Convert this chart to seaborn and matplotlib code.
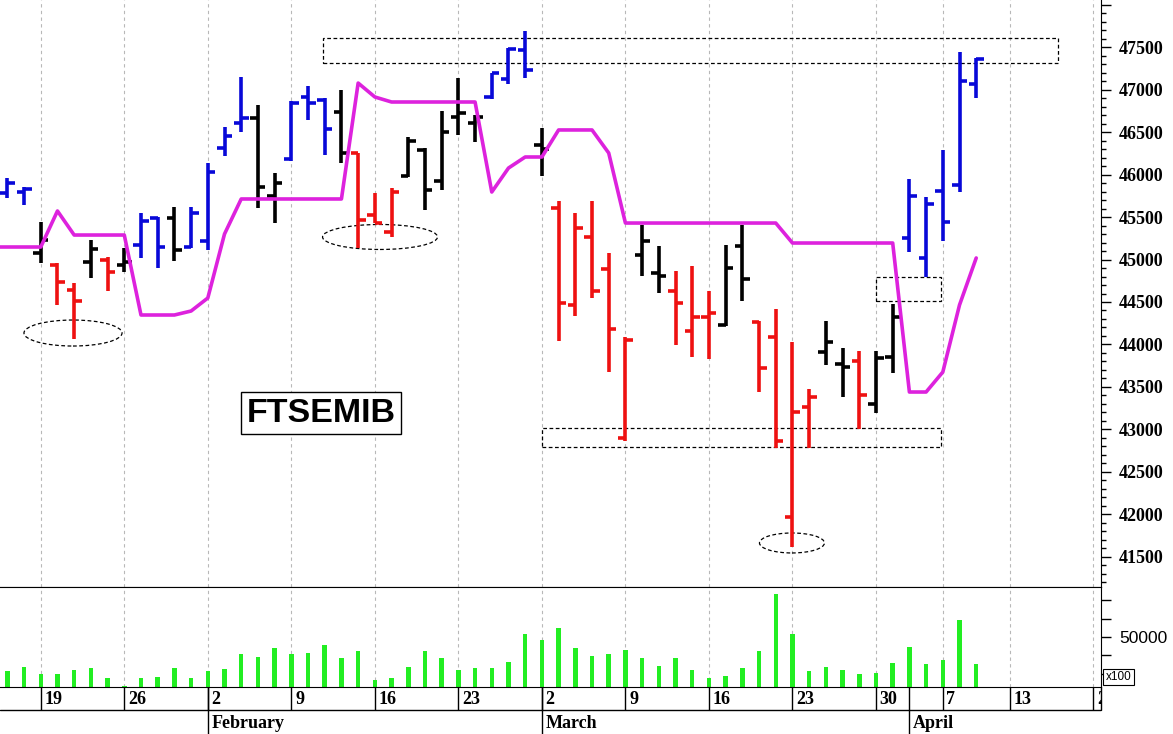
import matplotlib
matplotlib.use("Agg")
import matplotlib.pyplot as plt
from matplotlib.patches import Ellipse, Rectangle
from matplotlib.ticker import MultipleLocator
import seaborn as sns
import numpy as np
import pandas as pd

# trading days (3 and 6 April 2015 are Easter holidays)
dates = pd.bdate_range("2015-01-15", "2015-04-09").drop(pd.to_datetime(["2015-04-03", "2015-04-06"]))
future = pd.bdate_range("2015-04-10", "2015-04-20")

opens = [45780, 45790, 45076, 44935, 44641, 44970, 44994, 44935, 45171, 45488,
         45488, 45147, 45218, 46312, 46606, 46665, 45747, 46182, 46912, 46876,
         46735, 46253, 45524, 45324, 45982, 46288, 45924, 46676, 46606, 46912,
         47124, 47465, 46347, 45606, 44465, 45265, 44888, 42900, 45053, 44841,
         44629, 44159, 44323, 44229, 45159, 44265, 44088, 41971, 43265, 43912,
         43771, 43806, 43300, 43853, 45253, 45018, 45806, 45876, 47065]
highs = [45960, 45850, 45441, 44959, 44723, 45229, 45030, 45135, 45547, 45500,
         45618, 45618, 46135, 46559, 47147, 46818, 46018, 46865, 47041, 46900,
         46994, 46253, 45782, 45841, 46441, 46312, 46747, 47135, 46700, 47194,
         47488, 47688, 46547, 45688, 45547, 45688, 45076, 44088, 45406, 45159,
         44865, 44923, 44629, 45171, 45406, 44276, 44418, 44029, 43476, 44276,
         43959, 43924, 43924, 44476, 45947, 45735, 46288, 47441, 47371]
lows = [45720, 45640, 44959, 44465, 44065, 44782, 44630, 44853, 45018, 44900,
        44982, 45135, 45112, 46218, 46500, 45606, 45429, 46159, 46641, 46229,
        46135, 45135, 45429, 45265, 45971, 45582, 45818, 46465, 46382, 46888,
        47065, 47135, 45982, 44041, 44335, 44547, 43676, 42865, 44806, 44606,
        43994, 43853, 43829, 44218, 44512, 43441, 42782, 41618, 42782, 43759,
        43382, 43006, 43194, 43665, 45088, 44794, 45218, 45794, 46900]
closes = [45900, 45830, 45229, 44735, 44512, 45124, 44853, 44970, 45453, 45147,
          45112, 45547, 46029, 46453, 46665, 45853, 45900, 46841, 46841, 46535,
          46253, 45465, 45429, 45794, 46394, 45818, 46500, 46724, 46676, 47194,
          47476, 47229, 46300, 44488, 45371, 44629, 44182, 44053, 45218, 44806,
          44488, 44323, 44371, 44900, 44771, 43723, 42865, 43206, 43382, 44029,
          43735, 43406, 43841, 44323, 45747, 45653, 45441, 47100, 47359]
# b = blue, r = red, k = black
bar_colors = ["bbkrr", "krkbb", "kbbbb", "kkbbb", "krrrk", "kkkkb",
              "bbkrr", "rrrkk", "rrrkk", "rrrrk", "krkkb", "bbbb"]
# stop line starts one session earlier (14 Jan, off the left edge)
stop_line = [45147,
             45147, 45147, 45147, 45571, 45288, 45288, 45288, 45288, 44347, 44347,
             44347, 44394, 44547, 45300, 45712, 45712, 45712, 45712, 45712, 45712,
             45712, 47076, 46912, 46853, 46853, 46853, 46853, 46853, 46853, 45794,
             46076, 46206, 46206, 46524, 46524, 46524, 46253, 45429, 45429, 45429,
             45429, 45429, 45429, 45429, 45429, 45429, 45429, 45194, 45194, 45194,
             45194, 45194, 45194, 45194, 43441, 43441, 43676, 44465, 45018]
volume = [31600, 33600, 29800, 29800, 32000, 33100, 27600, 23200, 27600, 28100,
          33100, 27600, 31400, 32500, 40700, 39100, 44000, 40700, 41300, 45600,
          38500, 42300, 26500, 27600, 33600, 42300, 38500, 32000, 33100, 33100,
          36300, 51600, 48400, 54900, 44000, 39600, 40700, 42900, 38500, 34200,
          38500, 32000, 27600, 28700, 33100, 42300, 73500, 51600, 31400, 33600,
          32000, 29800, 30300, 35800, 44500, 35200, 37400, 59300, 35200]
price_ticks = [41500, 42000, 42500, 43000, 43500, 44000, 44500, 45000,
               45500, 46000, 46500, 47000, 47500, 48000]

sns.set_style("white")
plt.rcParams["font.family"] = ["Liberation Serif", "DejaVu Serif"]
for k in ("axes.edgecolor", "text.color", "xtick.color", "ytick.color", "axes.labelcolor"):
    plt.rcParams[k] = "black"

W, H = 1173, 734
fig = plt.figure(figsize=(W / 100, H / 100), dpi=100)
right = 1101 / W
ax_p = fig.add_axes([0, (H - 587) / H, right, 587 / H])
ax_v = fig.add_axes([0, (H - 687) / H, right, 100 / H])
ax_d = fig.add_axes([0, 0, right, (H - 687) / H])

x = np.arange(len(dates))
x_line = np.arange(-1, len(dates))
calendar = dates.append(future)
week_pos = [i for i in range(1, len(calendar)) if calendar[i].weekday() < calendar[i - 1].weekday()]
month_pos = [i for i in range(1, len(calendar)) if calendar[i].month != calendar[i - 1].month]

pal = {"b": "#0808d8", "r": "#ee1111", "k": "#000000"}
cols = [pal[c] for c in "".join(bar_colors)]

xlim = (-0.44, 65.47)
for ax in (ax_p, ax_v):
    for p in week_pos:
        ax.axvline(p, color="#b8b8b8", lw=0.8, ls=(0, (3, 3)), zorder=0)

# price panel
ax_p.vlines(x, lows, highs, colors=cols, lw=2.6)
ax_p.hlines(opens, x - 0.45, x, colors=cols, lw=2.6)
ax_p.hlines(closes, x, x + 0.45, colors=cols, lw=2.6)
sns.lineplot(x=x_line, y=stop_line, ax=ax_p, color="#dd22dd", lw=2.6, estimator=None)

dash = (0, (3, 2))
ax_p.add_patch(Rectangle((18.9, 47312), 44.0, 294, fill=False, ec="black", lw=0.9, ls=dash))
ax_p.add_patch(Rectangle((32.01, 42794), 23.88, 224, fill=False, ec="black", lw=0.9, ls=dash))
ax_p.add_patch(Rectangle((52.0, 44512), 3.89, 282, fill=False, ec="black", lw=0.9, ls=dash))
ax_p.add_patch(Ellipse((3.93, 44135), 5.87, 306, fill=False, ec="black", lw=0.9, ls=dash))
ax_p.add_patch(Ellipse((22.31, 45265), 6.88, 294, fill=False, ec="black", lw=0.9, ls=dash))
ax_p.add_patch(Ellipse((46.97, 41665), 3.89, 235, fill=False, ec="black", lw=0.9, ls=dash))

ax_p.text(18.78, 43190, "FTSEMIB", fontsize=24.5, fontweight="bold", color="black",
          family=["Liberation Sans", "DejaVu Sans"], ha="center", va="center",
          bbox=dict(boxstyle="square,pad=0.16", fc="white", ec="black", lw=1))

ax_p.set_xlim(xlim)
ax_p.set_ylim(41147, 48053)
ax_p.set_xticks([])
ax_p.yaxis.tick_right()
ax_p.set_yticks(price_ticks)
ax_p.set_yticklabels([str(v) if v < 48000 else "" for v in price_ticks], fontweight="bold")
ax_p.yaxis.set_minor_locator(MultipleLocator(100))
ax_p.tick_params(axis="y", which="major", length=7, width=1, direction="out", labelsize=13, pad=6)
ax_p.tick_params(axis="y", which="minor", length=3.5, width=1, direction="out", right=True)
ax_p.set_ylabel("")
for s in ("top", "left"):
    ax_p.spines[s].set_visible(False)

# volume panel
sns.barplot(x=x, y=volume, native_scale=True, width=0.27, color="#22ee22",
            saturation=1, errorbar=None, linewidth=0, ax=ax_v)
ax_v.set_xlim(xlim)
ax_v.set_ylim(22680, 77320)
ax_v.set_xticks([])
ax_v.set_xlabel("")
ax_v.yaxis.tick_right()
ax_v.set_yticks([30000, 40000, 50000, 60000, 70000])
ax_v.set_yticklabels(["", "", "50000", "", ""], family=["Liberation Sans", "DejaVu Sans"])
ax_v.tick_params(axis="y", length=7, width=1, direction="out", labelsize=12.5, pad=6)
ax_v.spines["left"].set_visible(False)
ax_v.text(1.004, 0.04, "x100", transform=ax_v.transAxes, fontsize=8.5,
          family=["Liberation Sans", "DejaVu Sans"], ha="left", va="bottom",
          bbox=dict(boxstyle="square,pad=0.2", fc="white", ec="black", lw=0.8))

# date rows
ax_d.set_xlim(xlim)
ax_d.set_ylim(0, 47)
ax_d.axis("off")
ax_d.axhline(24, color="black", lw=1)
ax_d.vlines(week_pos, 24, 47, color="black", lw=1)
ax_d.vlines(month_pos, 0, 47, color="black", lw=1)
ax_d.plot([1, 1], [24 / 47, 1], transform=ax_d.transAxes, color="black", lw=1, clip_on=False)
for p in week_pos:
    ax_d.text(p + 0.22, 34.5, str(calendar[p].day), fontsize=13, fontweight="bold",
              ha="left", va="center", clip_on=True)
for p in month_pos:
    ax_d.text(p + 0.22, 10.5, calendar[p].strftime("%B"), fontsize=13, fontweight="bold",
              ha="left", va="center", clip_on=True)

fig.savefig("out.png", dpi=100, facecolor="white")
